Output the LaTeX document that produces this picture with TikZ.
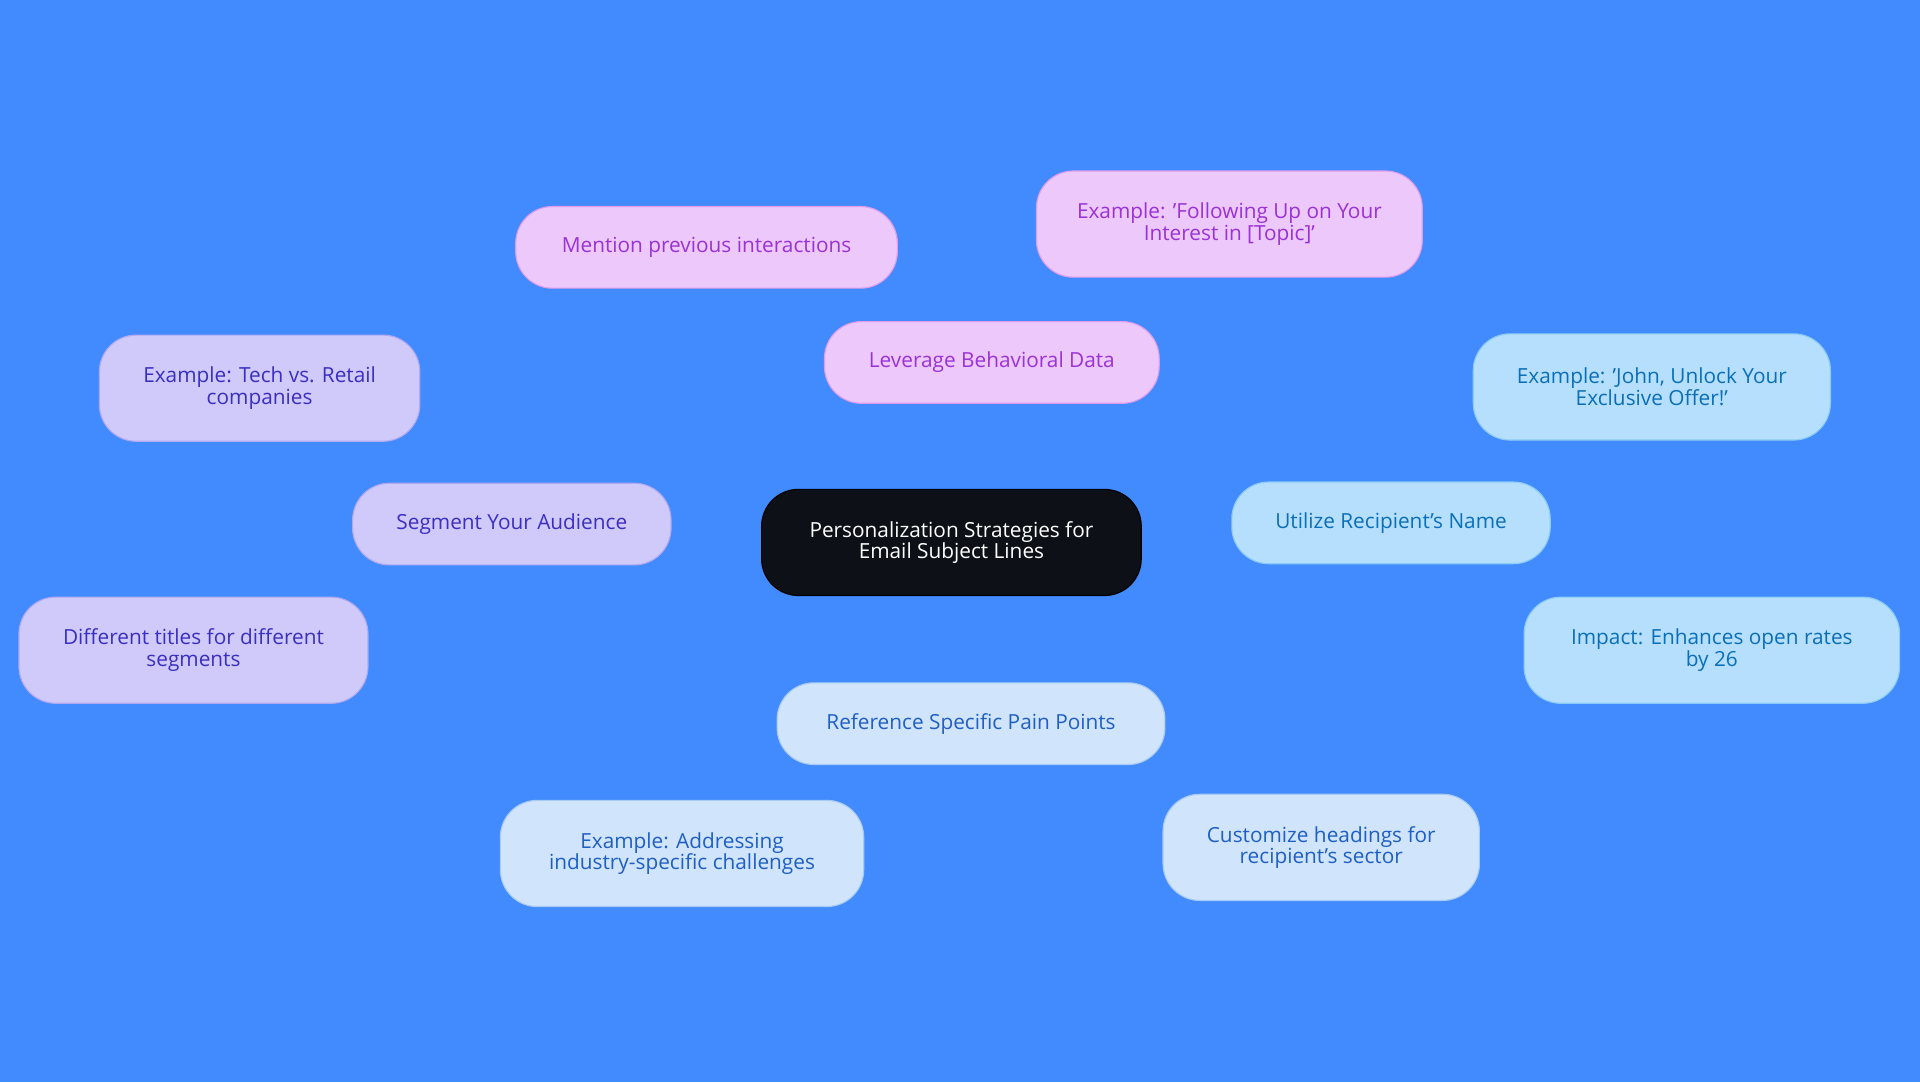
\documentclass[tikz,border=0pt]{standalone}
\usepackage{fontspec}
\setmainfont{Open Sans}
\usetikzlibrary{backgrounds}
\definecolor{bgblue}{HTML}{418BFE}
\definecolor{rootfill}{HTML}{0D1117}
\definecolor{pinkfill}{HTML}{ECC8FB}
\definecolor{pinkline}{HTML}{DE9DEB}
\definecolor{pinktext}{HTML}{9A32D6}
\definecolor{lilfill}{HTML}{CFCAF9}
\definecolor{lilline}{HTML}{B2A8F0}
\definecolor{liltext}{HTML}{3A2FC0}
\definecolor{skyfill}{HTML}{B5DFFC}
\definecolor{skyline}{HTML}{8CCBF5}
\definecolor{skytext}{HTML}{0B6FB8}
\definecolor{palefill}{HTML}{D0E4FB}
\definecolor{paleline}{HTML}{A9CBF3}
\definecolor{paletext}{HTML}{1F5FC4}
\tikzset{
  box/.style={rounded corners=0.9cm, draw, line width=0.8pt, align=center,
    font=\fontsize{14.5}{15}\selectfont, inner sep=0pt},
  pinkbox/.style={box, fill=pinkfill, draw=pinkline, text=pinktext},
  lilbox/.style={box, fill=lilfill, draw=lilline, text=liltext},
  skybox/.style={box, fill=skyfill, draw=skyline, text=skytext},
  palebox/.style={box, fill=palefill, draw=paleline, text=paletext},
  link/.style={line width=1.2pt}
}
\begin{document}
\begin{tikzpicture}[x=0.03cm,y=-0.03cm]
  \fill[bgblue] (0,0) rectangle (1568,884);
  \useasboundingbox (0,0) rectangle (1568,884);

  % root
  \node[box, fill=rootfill, draw=black, text=white, minimum width=9.3cm, minimum height=2.6cm]
    (root) at (777,443) {Personalization Strategies for\\Email Subject Lines};

  % behavioral data
  \node[pinkbox, minimum width=8.2cm, minimum height=2cm] (behav) at (810,296) {Leverage Behavioral Data};
  \node[pinkbox, minimum width=9.35cm, minimum height=2cm] (prev) at (577,202) {Mention previous interactions};
  \node[pinkbox, minimum width=9.45cm, minimum height=2.6cm] (follow) at (1004,183) {Example: 'Following Up on Your\\Interest in [Topic]'};

  % segments
  \node[lilbox, minimum width=7.8cm, minimum height=2cm] (segm) at (418,428) {Segment Your Audience};
  \node[lilbox, minimum width=7.85cm, minimum height=2.6cm] (tech) at (212,317) {Example: Tech vs. Retail\\companies};
  \node[lilbox, minimum width=8.55cm, minimum height=2.6cm] (titles) at (158,531) {Different titles for different\\segments};

  % name
  \node[skybox, minimum width=7.8cm, minimum height=2cm] (name) at (1136,427) {Utilize Recipient's Name};
  \node[skybox, minimum width=8.75cm, minimum height=2.6cm] (john) at (1349,316) {Example: 'John, Unlock Your\\Exclusive Offer!'};
  \node[skybox, minimum width=9.2cm, minimum height=2.6cm] (impact) at (1398,531) {Impact: Enhances open rates\\by 26};

  % pain points
  \node[palebox, minimum width=9.5cm, minimum height=2cm] (pain) at (793,591) {Reference Specific Pain Points};
  \node[palebox, minimum width=8.9cm, minimum height=2.6cm] (address) at (557,697) {Example: Addressing\\industry-specific challenges};
  \node[palebox, minimum width=7.75cm, minimum height=2.6cm] (sector) at (1079,692) {Customize headings for\\recipient's sector};

  \begin{scope}[on background layer]
    \fill[bgblue] (0,0) rectangle (1568,884);
    \draw[link, pinkline] (root) -- (behav);
    \draw[link, pinkline] (behav) -- (prev);
    \draw[link, pinkline] (behav) -- (follow);
    \draw[link, lilline] (root) -- (segm);
    \draw[link, lilline] (segm) -- (tech);
    \draw[link, lilline] (segm) -- (titles);
    \draw[link, skyline] (root) -- (name);
    \draw[link, skyline] (name) -- (john);
    \draw[link, skyline] (name) -- (impact);
    \draw[link, paleline] (root) -- (pain);
    \draw[link, paleline] (pain) -- (address);
    \draw[link, paleline] (pain) -- (sector);
  \end{scope}
\end{tikzpicture}
\end{document}
